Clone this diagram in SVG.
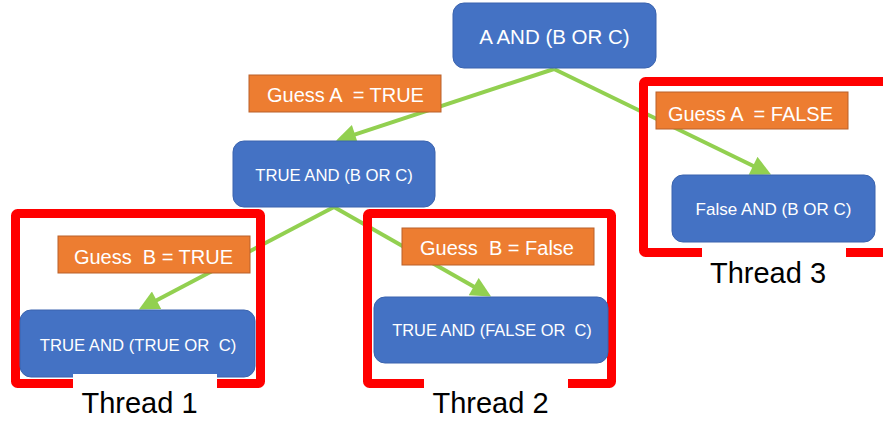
<svg xmlns="http://www.w3.org/2000/svg" width="883" height="424" viewBox="0 0 883 424">
  <style>
    .node rect { fill: #4472C4; stroke: #3A63AE; stroke-width: 1; }
    .node text { fill: #FFFFFF; font-family: "Liberation Sans", Arial, sans-serif; text-anchor: middle; white-space: pre; }
    .guess rect { fill: #ED7D31; stroke: #B9612A; stroke-width: 1; }
    .guess text { fill: #FFFFFF; font-family: "Liberation Sans", Arial, sans-serif; font-size: 20px; text-anchor: middle; white-space: pre; }
    .edge { fill: none; stroke: #92D050; stroke-width: 4; marker-end: url(#head); }
    .bracket { fill: none; stroke: #FF0000; stroke-width: 9; stroke-linejoin: round; }
    .tag rect { fill: #FFFFFF; }
    .tag text { fill: #000000; font-family: "Liberation Sans", Arial, sans-serif; font-size: 29px; text-anchor: middle; }
  </style>
  <defs>
    <marker id="head" viewBox="0 0 10 10" refX="5" refY="5" markerWidth="5.5" markerHeight="5" orient="auto" markerUnits="strokeWidth">
      <path d="M0,0 L10,5 L0,10 z" fill="#92D050"/>
    </marker>
  </defs>

  <rect width="883" height="424" fill="#FFFFFF"/>

  <!-- connectors -->
  <g id="connectors">
    <line class="edge" x1="554" y1="69" x2="345.5" y2="137.6"/>
    <line class="edge" x1="554" y1="69" x2="762.1" y2="170.2"/>
    <line class="edge" x1="334" y1="207" x2="147.7" y2="304.9"/>
    <line class="edge" x1="334" y1="207" x2="482.4" y2="291.6"/>
  </g>

  <!-- thread frames -->
  <g id="thread1-frame"><rect class="bracket" x="15.5" y="213.5" width="245" height="170" rx="2"/></g>
  <g id="thread2-frame"><rect class="bracket" x="367.5" y="213.5" width="244" height="170" rx="2"/></g>
  <g id="thread3-frame"><rect class="bracket" x="643.5" y="81.5" width="244" height="171" rx="2"/></g>

  <!-- expression nodes -->
  <g id="root" class="node">
    <rect x="453" y="3" width="203" height="65" rx="11"/>
    <text x="554.5" y="44" font-size="20.5">A AND (B OR C)</text>
  </g>
  <g id="a-true" class="node">
    <rect x="233" y="141" width="202" height="66" rx="11"/>
    <text x="334" y="181" font-size="16.7">TRUE AND (B OR C)</text>
  </g>
  <g id="b-true" class="node">
    <rect x="20" y="310" width="235" height="67" rx="11"/>
    <text x="138" y="351" font-size="16.7">TRUE AND (TRUE OR  C)</text>
  </g>
  <g id="b-false" class="node">
    <rect x="374" y="297" width="234" height="66" rx="11"/>
    <text x="492" y="336" font-size="16.4">TRUE AND (FALSE OR  C)</text>
  </g>
  <g id="a-false" class="node">
    <rect x="672" y="175" width="203" height="67" rx="11"/>
    <text x="773.5" y="215" font-size="17">False AND (B OR C)</text>
  </g>

  <!-- guess labels -->
  <g id="guess-a-true" class="guess">
    <rect x="249" y="75" width="192" height="37"/>
    <text x="345.5" y="102">Guess A  = TRUE</text>
  </g>
  <g id="guess-a-false" class="guess">
    <rect x="656" y="92" width="192" height="37"/>
    <text x="750.5" y="120.5">Guess A  = FALSE</text>
  </g>
  <g id="guess-b-true" class="guess">
    <rect x="58" y="236" width="192" height="37"/>
    <text x="153.5" y="264">Guess  B = TRUE</text>
  </g>
  <g id="guess-b-false" class="guess">
    <rect x="402" y="228" width="192" height="37"/>
    <text x="497" y="255">Guess  B = False</text>
  </g>

  <!-- thread captions -->
  <g id="thread1" class="tag">
    <rect x="73" y="374" width="144" height="50"/>
    <text x="139.5" y="413">Thread 1</text>
  </g>
  <g id="thread2" class="tag">
    <rect x="424" y="374" width="144" height="50"/>
    <text x="490.5" y="413">Thread 2</text>
  </g>
  <g id="thread3" class="tag">
    <rect x="702" y="245" width="144" height="45"/>
    <text x="768" y="283">Thread 3</text>
  </g>
</svg>
